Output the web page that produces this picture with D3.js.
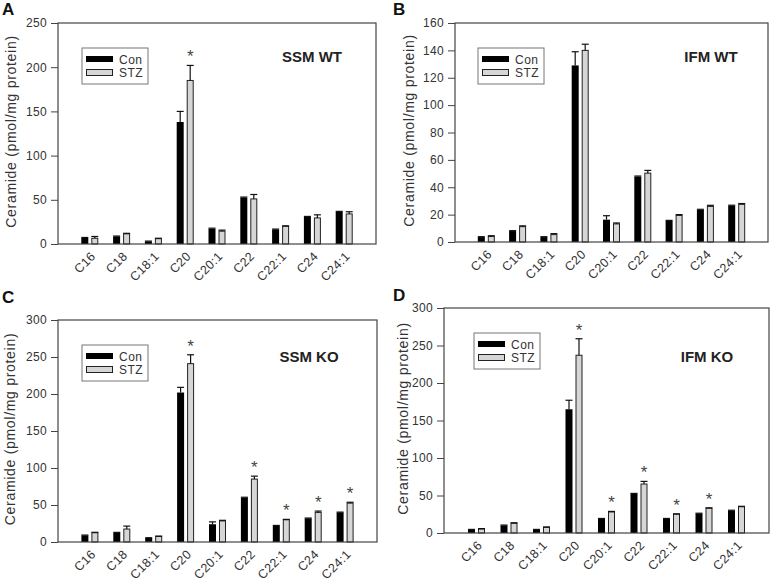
<!DOCTYPE html>
<html>
<head>
<meta charset="utf-8">
<script src="https://cdn.jsdelivr.net/npm/d3@7"></script>
<style>
  html, body { margin: 0; padding: 0; background: #fff; }
  svg { display: block; font-family: Arial, "Liberation Sans", sans-serif; }
</style>
</head>
<body>
<svg id="chart" width="774" height="582"></svg>
<script>
// ---------- DATA ----------
const categories = ["C16", "C18", "C18:1", "C20", "C20:1", "C22", "C22:1", "C24", "C24:1"];
const seriesNames = ["Con", "STZ"];

// Panel A: SSM WT
const conA    = [7, 8.6, 3, 138, 17.3, 52.6, 16.5, 30.8, 36.5];
const conErrA = [0.4, 0.4, 0.3, 12, 0.6, 0.5, 0.4, 0.4, 0.4];
const stzA    = [6.5, 11.5, 6, 185, 14.5, 51, 20, 29.5, 34];
const stzErrA = [2, 0.6, 0.5, 17, 1.2, 5, 0.6, 3.5, 2.5];
const sigA    = ["C20"];

// Panel B: IFM WT
const conB    = [3.6, 8, 3.6, 129, 16.3, 47.8, 15.5, 23.5, 26.6];
const conErrB = [0.3, 0.3, 0.3, 10, 2.9, 0.4, 0.3, 0.4, 0.3];
const stzB    = [4, 11.2, 5.4, 140, 13.2, 50.3, 19.4, 26, 27.5];
const stzErrB = [0.6, 0.6, 0.7, 4.5, 0.7, 2, 0.6, 0.8, 0.6];
const sigB    = [];

// Panel C: SSM KO
const conC    = [9, 12.5, 5.5, 202, 24, 60, 22, 32, 40];
const conErrC = [0.4, 0.5, 0.3, 7, 3.2, 0.5, 0.4, 0.4, 0.4];
const stzC    = [12.5, 17.5, 7.5, 241, 28.5, 85, 30, 40, 52.5];
const stzErrC = [0.6, 4, 0.5, 12, 0.8, 4, 0.6, 1.8, 1.2];
const sigC    = ["C20", "C22", "C22:1", "C24", "C24:1"];

// Panel D: IFM KO
const conD    = [4.5, 10.2, 4.5, 165, 19, 52.4, 19, 26, 30];
const conErrD = [0.3, 0.4, 0.3, 12, 0.4, 0.4, 0.4, 0.4, 0.4];
const stzD    = [5.3, 12.9, 7.5, 237, 28, 65.3, 25, 33, 35];
const stzErrD = [0.6, 0.8, 0.6, 22, 0.8, 3.5, 0.6, 0.6, 0.6];
const sigD    = ["C20", "C20:1", "C22", "C22:1", "C24"];

const yTicksA = [0, 50, 100, 150, 200, 250];
const yTicksB = [0, 20, 40, 60, 80, 100, 120, 140, 160];
const yTicksC = [0, 50, 100, 150, 200, 250, 300];
const yTicksD = [0, 50, 100, 150, 200, 250, 300];

const panelLetters = ["A", "B", "C", "D"];
const panelTitles = ["SSM WT", "IFM WT", "SSM KO", "IFM KO"];
const yLabel = "Ceramide (pmol/mg protein)";

// ---------- LAYOUT ----------
const panels = [
  { con: conA, conErr: conErrA, stz: stzA, stzErr: stzErrA, sig: sigA, ticks: yTicksA,
    x0: 58, x1: 376, y0: 23, y1: 244, letterX: 2, letterY: 15, ylabX: 11,
    titleX: 312, titleY: 62, legX: 82, legY: 48 },
  { con: conB, conErr: conErrB, stz: stzB, stzErr: stzErrB, sig: sigB, ticks: yTicksB,
    x0: 455, x1: 768, y0: 23, y1: 242, letterX: 393, letterY: 15, ylabX: 409,
    titleX: 711, titleY: 62, legX: 478, legY: 48 },
  { con: conC, conErr: conErrC, stz: stzC, stzErr: stzErrC, sig: sigC, ticks: yTicksC,
    x0: 58, x1: 377, y0: 320, y1: 542, letterX: 2, letterY: 303, ylabX: 10,
    titleX: 309, titleY: 362, legX: 82, legY: 345 },
  { con: conD, conErr: conErrD, stz: stzD, stzErr: stzErrD, sig: sigD, ticks: yTicksD,
    x0: 444, x1: 769, y0: 308, y1: 533, letterX: 393, letterY: 301, ylabX: 403,
    titleX: 707, titleY: 362, legX: 474, legY: 333 }
];

const svg = d3.select("#chart");
const textColor = "#333";
const frameColor = "#444";
const greyFill = "#d6d6d6";
const barW = 7, gap = 3;

panels.forEach((p, pi) => {
  const g = svg.append("g");
  const yMax = p.ticks[p.ticks.length - 1];
  const x = d3.scalePoint().domain(categories).range([p.x0, p.x1]).padding(1);
  const y = d3.scaleLinear().domain([0, yMax]).range([p.y1, p.y0]);

  // panel letter
  g.append("text").attr("x", p.letterX).attr("y", p.letterY)
    .attr("font-size", 17).attr("font-weight", "bold").attr("fill", "#111")
    .text(panelLetters[pi]);

  // y axis
  const yAxis = d3.axisLeft(y).tickValues(p.ticks).tickSize(7).tickPadding(4).tickFormat(d3.format("d"));
  const ya = g.append("g").attr("transform", `translate(${p.x0},0)`).call(yAxis);
  ya.select(".domain").remove();
  ya.selectAll(".tick line").attr("stroke", frameColor);
  ya.selectAll(".tick text").attr("font-size", 12).attr("fill", textColor)
    .attr("font-family", "Arial, 'Liberation Sans', sans-serif")
    .attr("letter-spacing", "0.3px");

  // x axis labels (no ticks)
  const xAxis = d3.axisBottom(x).tickSize(0).tickPadding(0);
  const xa = g.append("g").attr("transform", `translate(0,${p.y1})`).call(xAxis);
  xa.select(".domain").remove();
  xa.selectAll(".tick text")
    .attr("font-size", 12.5).attr("fill", textColor)
    .attr("letter-spacing", "0.4px")
    .attr("font-family", "Arial, 'Liberation Sans', sans-serif")
    .attr("text-anchor", "end")
    .attr("dy", "0")
    .attr("transform", "translate(6,13) rotate(-45)");

  // y label
  g.append("text")
    .attr("transform", `translate(${p.ylabX},${(p.y0 + p.y1) / 2 - 2}) rotate(-90)`)
    .attr("text-anchor", "middle").attr("dy", "0.35em")
    .attr("font-size", 14).attr("letter-spacing", "0.7px").attr("fill", textColor)
    .text(yLabel);

  // bars: Con
  g.selectAll(".con").data(categories).enter().append("rect")
    .attr("x", d => x(d) - gap / 2 - barW)
    .attr("y", (d, i) => y(p.con[i]))
    .attr("width", barW)
    .attr("height", (d, i) => y(0) - y(p.con[i]))
    .attr("fill", "#000");
  // bars: STZ
  g.selectAll(".stz").data(categories).enter().append("rect")
    .attr("x", d => x(d) + gap / 2 + 0.5)
    .attr("y", (d, i) => y(p.stz[i]))
    .attr("width", barW - 1)
    .attr("height", (d, i) => y(0) - y(p.stz[i]))
    .attr("fill", greyFill).attr("stroke", "#222").attr("stroke-width", 1);

  // error bars (upper only)
  const errs = [];
  categories.forEach((c, i) => {
    errs.push({ cx: x(c) - gap / 2 - barW / 2, v: p.con[i], e: p.conErr[i] });
    errs.push({ cx: x(c) + gap / 2 + barW / 2, v: p.stz[i], e: p.stzErr[i] });
  });
  const eg = g.append("g").attr("stroke", "#111").attr("stroke-width", 1.2);
  errs.forEach(d => {
    eg.append("line").attr("x1", d.cx).attr("x2", d.cx).attr("y1", y(d.v)).attr("y2", y(d.v + d.e));
    eg.append("line").attr("x1", d.cx - barW / 2).attr("x2", d.cx + barW / 2)
      .attr("y1", y(d.v + d.e)).attr("y2", y(d.v + d.e));
  });

  // significance stars
  categories.forEach((c, i) => {
    if (p.sig.includes(c)) {
      g.append("text")
        .attr("x", x(c) + gap / 2 + barW / 2)
        .attr("y", y(p.stz[i] + p.stzErr[i]) - 3)
        .attr("text-anchor", "middle").attr("font-size", 17).attr("fill", "#444")
        .text("*");
    }
  });

  // frame
  g.append("rect").attr("x", p.x0).attr("y", p.y0)
    .attr("width", p.x1 - p.x0).attr("height", p.y1 - p.y0)
    .attr("fill", "none").attr("stroke", frameColor).attr("stroke-width", 1.2);

  // title
  g.append("text").attr("x", p.titleX).attr("y", p.titleY)
    .attr("text-anchor", "middle").attr("font-size", 15).attr("font-weight", "bold")
    .attr("fill", "#222").text(panelTitles[pi]);

  // legend
  const lg = g.append("g").attr("transform", `translate(${p.legX},${p.legY})`);
  lg.append("rect").attr("x", 0).attr("y", 0).attr("width", 66).attr("height", 36)
    .attr("fill", "#fff").attr("stroke", "#777").attr("stroke-width", 1);
  lg.append("rect").attr("x", 4).attr("y", 8).attr("width", 27).attr("height", 6).attr("fill", "#000");
  lg.append("rect").attr("x", 4.5).attr("y", 21.5).attr("width", 26).attr("height", 6)
    .attr("fill", greyFill).attr("stroke", "#222").attr("stroke-width", 1);
  lg.append("text").attr("x", 37).attr("y", 15.5).attr("font-size", 12).attr("letter-spacing", "0.5px").attr("fill", textColor).text(seriesNames[0]);
  lg.append("text").attr("x", 37).attr("y", 29).attr("font-size", 12).attr("letter-spacing", "0.5px").attr("fill", textColor).text(seriesNames[1]);
});
</script>
</body>
</html>
